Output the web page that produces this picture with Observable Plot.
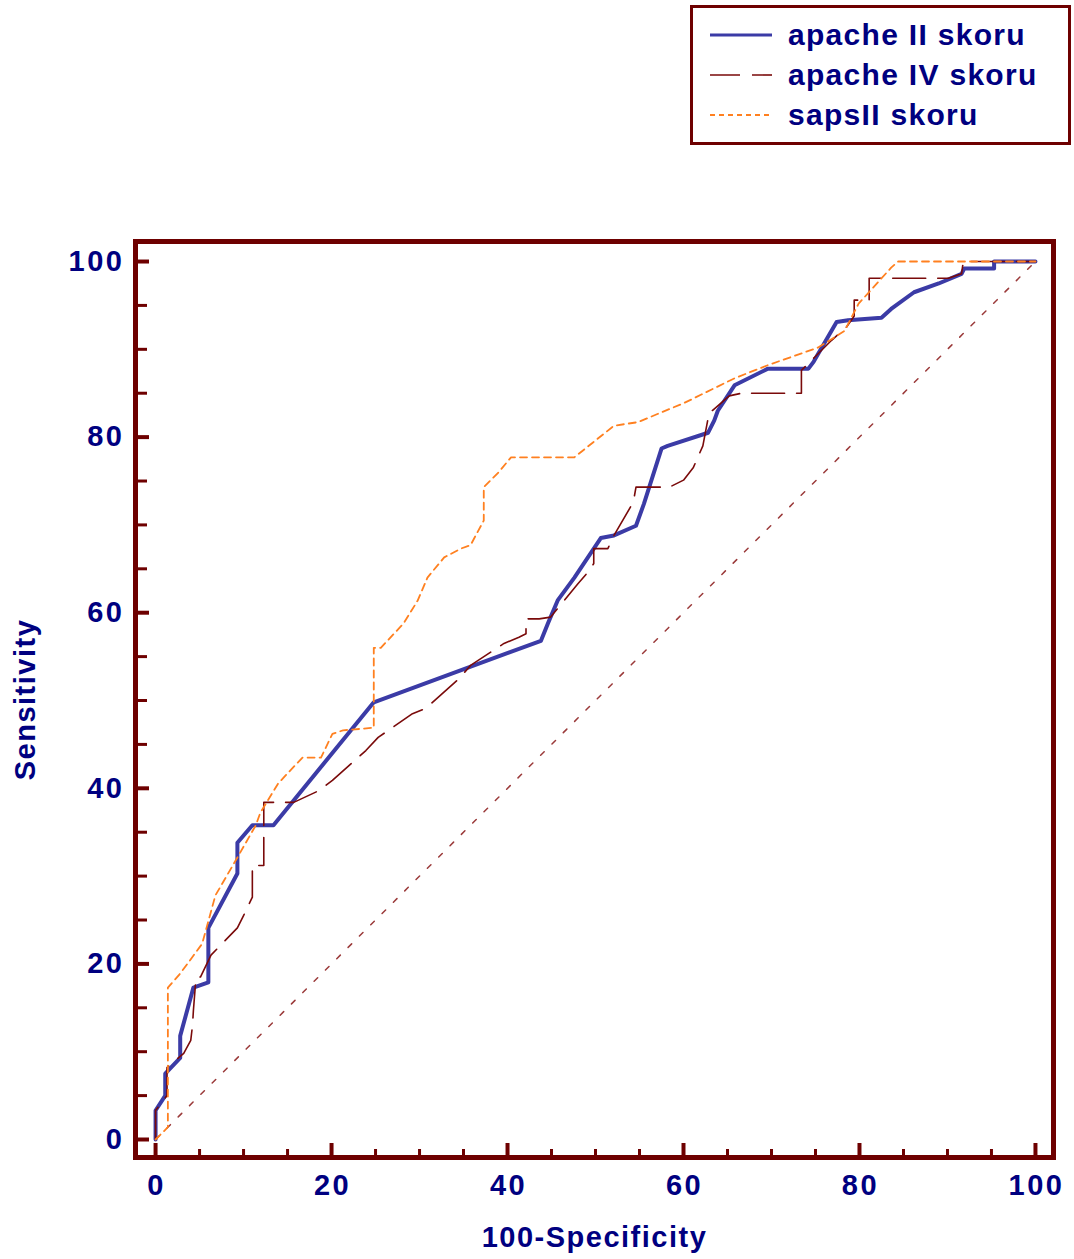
<!DOCTYPE html>
<html>
<head>
<meta charset="utf-8">
<script src="https://cdn.jsdelivr.net/npm/d3@7"></script>
<script src="https://cdn.jsdelivr.net/npm/@observablehq/plot@0.6"></script>
<style>
  body { margin: 0; background: #fff; font-family: "Liberation Sans", Arial, sans-serif; }
  #legend-area { position: relative; width: 1074px; height: 150px; }
  #legend { position: absolute; left: 690px; top: 5px; width: 375px; height: 134px; border: 3px solid #6e0000; background: #fff; }
  .row { position: absolute; left: 0; height: 40px; display: flex; align-items: center; }
  .row svg { margin-left: 17px; display: block; }
  .row span { margin-left: 16px; font-weight: bold; font-size: 30px; letter-spacing: 1.3px; color: #000080; white-space: nowrap; }
  #chart svg text { font-weight: bold; }
  #chart svg [aria-label="x-axis tick label"] text,
  #chart svg [aria-label="y-axis tick label"] text { letter-spacing: 2.5px; }
  #chart svg [aria-label="x-axis label"] text,
  #chart svg [aria-label="y-axis label"] text { letter-spacing: 1.5px; }
</style>
</head>
<body>
<div id="legend-area"><div id="legend"></div></div>
<div id="chart"></div>
<script>
// ROC curves: (100 - specificity, sensitivity) points for each score
const apache2 = [[0,0],[0,3.3],[1.1,5.0],[1.1,7.5],[2.8,9.3],[2.8,11.8],[4.3,17.3],[6.0,17.9],[6.0,24.1],[9.3,30.3],[9.3,33.8],[11.0,35.8],[13.4,35.8],[24.8,49.8],[43.8,56.8],[44.6,58.8],[45.7,61.4],[47.6,64.0],[50.6,68.5],[52.1,68.8],[54.6,69.9],[55.5,72.4],[57.5,78.7],[58.2,79.0],[62.8,80.5],[63.5,81.9],[63.9,83.0],[65.8,85.9],[69.6,87.8],[74.2,87.8],[74.8,88.6],[76.0,90.7],[77.4,93.1],[78.7,93.3],[82.5,93.6],[83.6,94.6],[86.2,96.5],[89.0,97.5],[91.6,98.6],[91.9,99.2],[95.3,99.2],[95.3,100],[100,100]];

const apache4 = [[0,0],[0,3.3],[1.3,5.0],[1.3,8.2],[3.2,9.8],[4.0,11.3],[4.2,13.0],[4.3,14.7],[4.6,18.5],[5.1,18.5],[6.3,21.0],[9.3,24.1],[10.0,25.5],[11.0,27.6],[11.0,31.2],[12.3,31.2],[12.3,38.4],[15.7,38.4],[18.5,39.7],[20.1,40.9],[23.9,44.3],[25.3,45.8],[29.2,48.5],[30.7,49.1],[34.5,52.5],[35.8,54.0],[39.6,56.5],[41.3,57.2],[42.1,57.6],[42.1,59.3],[43.6,59.3],[44.9,59.5],[48.0,63.3],[49.3,64.8],[49.8,65.6],[49.8,67.3],[51.4,67.3],[52.1,68.8],[54.3,72.6],[54.6,74.3],[58.4,74.3],[60.0,75.1],[61.1,76.5],[62.2,79.0],[62.9,82.7],[65.2,84.7],[66.6,85.0],[73.4,85.0],[73.4,87.6],[74.9,89.1],[76.8,91.0],[78.5,92.5],[79.4,93.8],[79.4,95.6],[81.1,95.6],[81.1,98.1],[90.1,98.1],[91.6,98.6],[91.8,100],[100,100]];

const saps2 = [[0,0],[1.4,1.4],[1.4,17.3],[2.8,18.9],[5.3,22.3],[6.8,27.8],[9.4,32.3],[11.4,35.8],[11.9,37.2],[13.9,40.5],[15.0,41.7],[16.7,43.5],[18.8,43.5],[20.1,46.2],[21.3,46.6],[24.8,46.9],[24.8,56.0],[25.6,56.0],[28.2,58.8],[29.8,61.4],[30.9,64.0],[32.8,66.3],[34.7,67.3],[35.8,67.7],[37.3,70.5],[37.3,74.3],[38.9,75.9],[40.4,77.7],[47.6,77.7],[52.1,81.3],[54.8,81.7],[60.1,83.9],[65.8,86.7],[69.6,88.2],[75.3,90.2],[78.3,92.1],[79.9,95.2],[83.6,99.3],[84.4,100],[100,100]];

const reference = [[0,0],[100,100]];

const seriesNames = ["apache II skoru", "apache IV skoru", "sapsII skoru"];
const xTickValues = [0, 20, 40, 60, 80, 100];
const yTickValues = [0, 20, 40, 60, 80, 100];
const minorTickValues = [5, 10, 15, 25, 30, 35, 45, 50, 55, 65, 70, 75, 85, 90, 95];

const styles = [
  {stroke: "#3b3ba6", strokeWidth: 4, dash: null},
  {stroke: "#7a0a0a", strokeWidth: 1.6, dash: "33,12"},
  {stroke: "#ff8020", strokeWidth: 1.8, dash: "7,5"}
];
const frameColor = "#6e0000";
const textColor = "#000080";

// legend
const legend = document.getElementById("legend");
seriesNames.forEach((name, i) => {
  const row = document.createElement("div");
  row.className = "row";
  row.style.top = (7 + i * 40) + "px";
  const s = styles[i];
  row.innerHTML = `<svg width="62" height="10"><line x1="0" x2="62" y1="5" y2="5" stroke="${s.stroke}" stroke-width="${Math.min(s.strokeWidth, 3)}"${s.dash ? ` stroke-dasharray="${i === 1 ? "30,12" : "5,4"}"` : ""}/></svg><span>${name}</span>`;
  legend.appendChild(row);
});

const W = 1074, H = 1109;
const mL = 135, mR = 21, mT = 91, mB = 102;
const innerW = W - mL - mR, innerH = H - mT - mB;

const px = d => d[0], py = d => d[1];

const chart = Plot.plot({
  width: W,
  height: H,
  marginLeft: mL, marginRight: mR, marginTop: mT, marginBottom: mB,
  x: {domain: [-2.28, 102.05]},
  y: {domain: [-2.05, 102.28]},
  style: {background: "#fff", fontFamily: "'Liberation Sans', Arial, sans-serif", overflow: "visible"},
  marks: [
    Plot.line(reference, {x: px, y: py, stroke: "#9b3a3a", strokeWidth: 1.5, strokeDasharray: "5,11"}),
    Plot.line(apache2, {x: px, y: py, stroke: styles[0].stroke, strokeWidth: styles[0].strokeWidth, strokeLinejoin: "round"}),
    Plot.line(apache4, {x: px, y: py, stroke: styles[1].stroke, strokeWidth: styles[1].strokeWidth, strokeDasharray: styles[1].dash}),
    Plot.line(saps2, {x: px, y: py, stroke: styles[2].stroke, strokeWidth: styles[2].strokeWidth, strokeDasharray: styles[2].dash}),
    // inward tick marks
    Plot.tickX(minorTickValues, {x: d => d, stroke: frameColor, strokeWidth: 3, insetTop: innerH - 8}),
    Plot.tickX(xTickValues, {x: d => d, stroke: frameColor, strokeWidth: 4, insetTop: innerH - 14}),
    Plot.tickY(minorTickValues, {y: d => d, stroke: frameColor, strokeWidth: 3, insetRight: innerW - 12}),
    Plot.tickY(yTickValues, {y: d => d, stroke: frameColor, strokeWidth: 4, insetRight: innerW - 14}),
    Plot.frame({stroke: frameColor, strokeWidth: 5}),
    Plot.axisX(xTickValues, {tickSize: 0, tickPadding: 17, fontSize: 29, color: textColor, dx: 1,
      label: "100-Specificity", labelAnchor: "center", labelOffset: 89, labelArrow: "none"}),
    Plot.axisY(yTickValues, {tickSize: 0, tickPadding: 11, fontSize: 29, color: textColor,
      label: "Sensitivity", labelAnchor: "center", labelOffset: 121, labelArrow: "none"})
  ]
});
document.getElementById("chart").appendChild(chart);
</script>
</body>
</html>
